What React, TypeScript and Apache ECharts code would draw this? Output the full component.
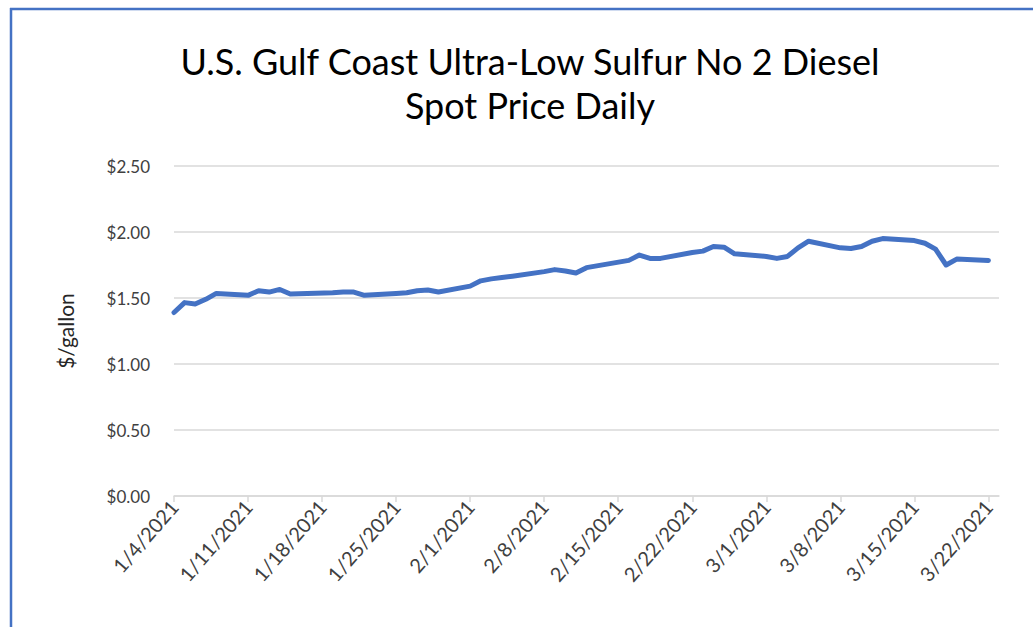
import React, { useEffect, useRef } from "react";
import * as echarts from "echarts";

const TITLE_LINE_1 = "U.S. Gulf Coast Ultra-Low Sulfur No 2 Diesel";
const TITLE_LINE_2 = "Spot Price Daily";
const Y_AXIS_NAME = "$/gallon";

const dates = [
  "2021-01-04", "2021-01-05", "2021-01-06", "2021-01-07", "2021-01-08",
  "2021-01-11", "2021-01-12", "2021-01-13", "2021-01-14", "2021-01-15",
  "2021-01-19", "2021-01-20", "2021-01-21", "2021-01-22",
  "2021-01-25", "2021-01-26", "2021-01-27", "2021-01-28", "2021-01-29",
  "2021-02-01", "2021-02-02", "2021-02-03", "2021-02-04", "2021-02-05",
  "2021-02-08", "2021-02-09", "2021-02-10", "2021-02-11", "2021-02-12",
  "2021-02-16", "2021-02-17", "2021-02-18", "2021-02-19",
  "2021-02-22", "2021-02-23", "2021-02-24", "2021-02-25", "2021-02-26",
  "2021-03-01", "2021-03-02", "2021-03-03", "2021-03-04", "2021-03-05",
  "2021-03-08", "2021-03-09", "2021-03-10", "2021-03-11", "2021-03-12",
  "2021-03-15", "2021-03-16", "2021-03-17", "2021-03-18", "2021-03-19",
  "2021-03-22",
];

const prices = [
  1.39, 1.465, 1.455, 1.49, 1.535,
  1.52, 1.555, 1.545, 1.565, 1.53,
  1.54, 1.545, 1.545, 1.52,
  1.535, 1.54, 1.555, 1.56, 1.545,
  1.59, 1.63, 1.645, 1.655, 1.665,
  1.70, 1.715, 1.705, 1.69, 1.73,
  1.785, 1.825, 1.80, 1.80,
  1.845, 1.855, 1.89, 1.885, 1.835,
  1.815, 1.80, 1.815, 1.88, 1.93,
  1.88, 1.875, 1.89, 1.93, 1.95,
  1.935, 1.915, 1.87, 1.75, 1.795,
  1.785,
];

const X_START = "2021-01-04";
const X_END = "2021-03-23";
const TICK_DAYS = [0, 7, 14, 21, 28, 35, 42, 49, 56, 63, 70, 77];
const Y_MIN = 0;
const Y_MAX = 2.5;
const Y_STEP = 0.5;

const DAY_MS = 86400000;
const toUTC = (s: string) => {
  const [y, m, d] = s.split("-").map(Number);
  return Date.UTC(y, m - 1, d);
};
const dayOffset = (s: string) => Math.round((toUTC(s) - toUTC(X_START)) / DAY_MS);
const offsetToLabel = (v: number) => {
  const dt = new Date(toUTC(X_START) + v * DAY_MS);
  return `${dt.getUTCMonth() + 1}/${dt.getUTCDate()}/${dt.getUTCFullYear()}`;
};

const FONT = "Lato, 'Noto Sans', sans-serif";
const BLUE = "#4472C4";

export default function App() {
  const ref = useRef<HTMLDivElement>(null);

  useEffect(() => {
    if (!ref.current) return;
    const chart = echarts.init(ref.current, undefined, { renderer: "svg" });
    const data = dates.map((d, i) => [dayOffset(d), prices[i]]);
    chart.setOption({
      animation: false,
      backgroundColor: "#ffffff",
      grid: { left: 174, right: 34, top: 166, bottom: 131, containLabel: false },
      graphic: [
        { type: "line", shape: { x1: 10, y1: 9, x2: 1033, y2: 9 }, style: { stroke: BLUE, lineWidth: 2.5 } },
        { type: "line", shape: { x1: 11, y1: 8, x2: 11, y2: 627 }, style: { stroke: BLUE, lineWidth: 2.5 } },
        {
          type: "text",
          style: {
            text: TITLE_LINE_1 + "\n" + TITLE_LINE_2,
            x: 530,
            y: 39,
            align: "center",
            verticalAlign: "top",
            font: `36px ${FONT}`,
            fill: "#000000",
            lineHeight: 44,
          },
        } as any,
      ],
      xAxis: {
        type: "value",
        min: dayOffset(X_START),
        max: dayOffset(X_END),
        interval: 7,
        axisLine: { show: true, lineStyle: { color: "#d9d9d9", width: 1.5 } },
        axisTick: { show: true, length: 6, lineStyle: { color: "#d9d9d9", width: 1.5 }, customValues: TICK_DAYS },
        splitLine: { show: false },
        axisLabel: {
          customValues: TICK_DAYS,
          rotate: 49,
          margin: 7,
          color: "#404040",
          fontFamily: FONT,
          fontSize: 20,
          formatter: (v: number) => offsetToLabel(v),
        },
      },
      yAxis: {
        type: "value",
        min: Y_MIN,
        max: Y_MAX,
        interval: Y_STEP,
        name: Y_AXIS_NAME,
        nameLocation: "middle",
        nameRotate: 90,
        nameGap: 98,
        nameTextStyle: { color: "#262626", fontFamily: FONT, fontSize: 21 },
        axisLine: { show: false },
        axisTick: { show: false },
        splitLine: { show: true, lineStyle: { color: "#d9d9d9", width: 1.5 } },
        axisLabel: {
          margin: 24,
          color: "#404040",
          fontFamily: FONT,
          fontSize: 17,
          formatter: (v: number) => "$" + v.toFixed(2),
        },
      },
      series: [
        {
          type: "line",
          data,
          showSymbol: false,
          symbol: "none",
          lineStyle: { color: BLUE, width: 5, join: "round", cap: "round" },
          silent: true,
        },
      ],
    });
    return () => chart.dispose();
  }, []);

  return (
    <div
      ref={ref}
      style={{ position: "absolute", left: 0, top: 0, width: 1033, height: 627 }}
    />
  );
}
